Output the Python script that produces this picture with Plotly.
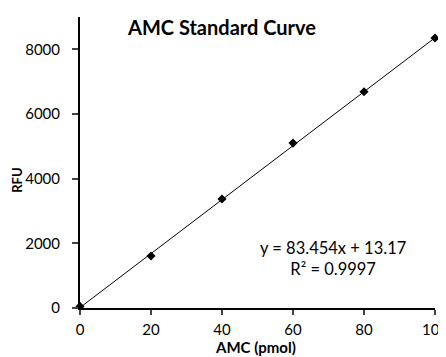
import plotly.graph_objects as go

amc_pmol = [0, 20, 40, 60, 80, 100]
rfu = [50, 1610, 3370, 5100, 6690, 8350]
slope = 83.454
intercept = 13.17
r_squared = 0.9997
x_ticks = [0, 20, 40, 60, 80, 100]
y_ticks = [0, 2000, 4000, 6000, 8000]

font = "Lato"
fit_x = [min(amc_pmol), max(amc_pmol)]
fit_y = [slope * v + intercept for v in fit_x]

fig = go.Figure()
fig.add_trace(go.Scatter(x=fit_x, y=fit_y, mode="lines",
                         line=dict(color="black", width=1), showlegend=False,
                         hoverinfo="skip", cliponaxis=False))
fig.add_trace(go.Scatter(x=amc_pmol, y=rfu, mode="markers",
                         marker=dict(symbol="diamond", size=7, color="black"),
                         showlegend=False, cliponaxis=False))

fig.update_layout(
    width=446, height=357,
    margin=dict(l=72, r=19, t=9, b=57),
    paper_bgcolor="white", plot_bgcolor="white",
    font=dict(family=font, size=15, color="black"),
    xaxis=dict(range=[0, 100], tickvals=x_ticks, ticks="outside", ticklen=5,
               tickwidth=2, showline=True, linewidth=2, linecolor="black",
               showgrid=False, zeroline=False, automargin=False,
               ticklabeloverflow="allow", ticklabelstandoff=2,
               tickfont=dict(size=15)),
    yaxis=dict(range=[0, 9000], tickvals=y_ticks, ticks="outside", ticklen=6,
               tickwidth=2, showline=True, linewidth=2, linecolor="black",
               showgrid=False, zeroline=False, ticklabelstandoff=9,
               automargin=False, tickfont=dict(size=15)),
    annotations=[
        dict(text="<b>AMC Standard Curve</b>", x=0.399, y=0.965, xref="paper", yref="paper",
             showarrow=False, font=dict(size=20), xanchor="center", yanchor="middle"),
        dict(text=f"y = {slope}x + {intercept}<br>R² = {r_squared}", x=0.713, y=0.17,
             xref="paper", yref="paper", showarrow=False, align="center",
             font=dict(size=16.5), xanchor="center", yanchor="middle"),
        dict(text="<b>AMC (pmol)</b>", x=0.493, y=-0.168, xref="paper", yref="paper",
             showarrow=False, font=dict(size=15), xanchor="center", yanchor="bottom",
             borderpad=0),
        dict(text="<b>RFU</b>", x=-0.178, y=0.44, xref="paper", yref="paper",
             showarrow=False, font=dict(size=13), textangle=-90,
             xanchor="center", yanchor="middle"),
    ],
)

fig.write_html("out.html")
